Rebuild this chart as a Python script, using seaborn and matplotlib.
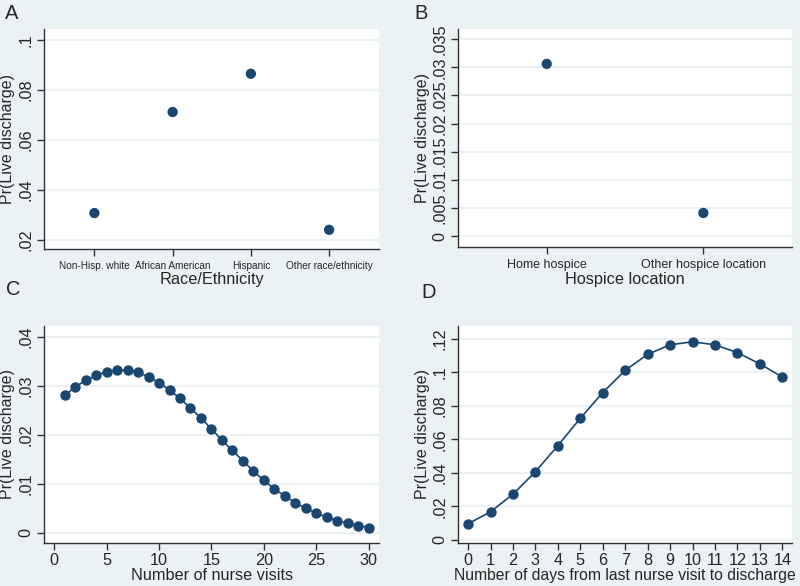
import matplotlib
matplotlib.use("Agg")
import matplotlib.pyplot as plt
from matplotlib.ticker import FuncFormatter
import seaborn as sns
import numpy as np
import pandas as pd

# panel A
race_labels = ["Non-Hisp. white", "African American", "Hispanic", "Other race/ethnicity"]
race_pr = [0.0308, 0.0712, 0.0865, 0.0241]

# panel B
loc_labels = ["Home hospice", "Other hospice location"]
loc_pr = [0.0306, 0.0041]

# panel C
visits = list(range(1, 31))
visits_pr = [0.0280, 0.0297, 0.0311, 0.0321, 0.0328, 0.0331, 0.0331, 0.0327, 0.0318, 0.0306,
             0.0291, 0.0274, 0.0254, 0.0234, 0.0212, 0.0189, 0.0168, 0.0147, 0.0126, 0.0107,
             0.0090, 0.0075, 0.0062, 0.0050, 0.0041, 0.0032, 0.0025, 0.0020, 0.0015, 0.0011]

# panel D
days = list(range(0, 15))
days_pr = [0.0095, 0.0167, 0.0272, 0.0406, 0.0562, 0.0725, 0.0879, 0.1011, 0.1107, 0.1164,
           0.1182, 0.1164, 0.1117, 0.1050, 0.0971]

bg = "#EAF2F3"
navy = "#1A476F"

sns.set_style("white")
plt.rcParams["font.family"] = ["Liberation Sans", "DejaVu Sans"]

def stata_fmt(v, pos):
    s = f"{round(v, 6):g}"
    if s.startswith("0."):
        s = s[1:]
    return s

def style_ax(ax, yticks, ylim, xlim):
    ax.set_facecolor("white")
    ax.set_ylim(*ylim)
    ax.set_xlim(*xlim)
    ax.set_yticks(yticks)
    ax.yaxis.set_major_formatter(FuncFormatter(stata_fmt))
    for t in ax.get_yticklabels():
        t.set_rotation(90)
        t.set_va("center")
    ax.tick_params(axis="y", labelsize=11.7, length=5, width=1, color="#333333",
                   direction="out", left=True, pad=3)
    ax.tick_params(axis="x", length=5, width=1, color="#333333", direction="out", bottom=True)
    ax.grid(axis="y", color=bg, linewidth=1.5)
    ax.grid(axis="x", visible=False)
    ax.set_axisbelow(True)
    for s in ["top", "right"]:
        ax.spines[s].set_visible(False)
    for s in ["left", "bottom"]:
        ax.spines[s].set_color("#333333")
        ax.spines[s].set_linewidth(1)
    ax.set_ylabel("Pr(Live discharge)", fontsize=11.5, labelpad=2)

fig = plt.figure(figsize=(8, 5.86), dpi=100, facecolor=bg)

axA = fig.add_axes([0.0554, 0.575, 0.4186, 0.3755])
axB = fig.add_axes([0.573, 0.579, 0.417, 0.3715])
axC = fig.add_axes([0.0554, 0.0729, 0.4186, 0.3713])
axD = fig.add_axes([0.573, 0.0729, 0.417, 0.3713])

dfA = pd.DataFrame({"race": race_labels, "pr": race_pr})
sns.scatterplot(data=dfA, x="race", y="pr", ax=axA, color=navy, s=55, edgecolor="none")
style_ax(axA, np.arange(0.02, 0.1001, 0.02), (0.0164, 0.1044), (-0.64, 3.64))
axA.set_xlabel("Race/Ethnicity", fontsize=11.7, labelpad=1)
axA.tick_params(axis="x", labelsize=7.2)

dfB = pd.DataFrame({"loc": loc_labels, "pr": loc_pr})
sns.scatterplot(data=dfB, x="loc", y="pr", ax=axB, color=navy, s=55, edgecolor="none")
style_ax(axB, np.arange(0, 0.03501, 0.005), (-0.0019, 0.0368), (-0.564, 1.566))
axB.set_xlabel("Hospice location", fontsize=11.7, labelpad=1)
axB.tick_params(axis="x", labelsize=9)

dfC = pd.DataFrame({"visits": visits, "pr": visits_pr})
sns.lineplot(data=dfC, x="visits", y="pr", ax=axC, color=navy, linewidth=1.2,
             marker="o", markersize=7.5, markeredgecolor="none")
style_ax(axC, np.arange(0, 0.0401, 0.01), (-0.0021, 0.0422), (-0.955, 31.02))
axC.set_xticks(range(0, 31, 5))
axC.set_xlabel("Number of nurse visits", fontsize=11.7, labelpad=0)
axC.tick_params(axis="x", labelsize=11.7, pad=2)

dfD = pd.DataFrame({"days": days, "pr": days_pr})
sns.lineplot(data=dfD, x="days", y="pr", ax=axD, color=navy, linewidth=1.2,
             marker="o", markersize=7.5, markeredgecolor="none")
style_ax(axD, np.arange(0, 0.1201, 0.02), (-0.0021, 0.1278), (-0.43, 14.43))
axD.set_xticks(days)
axD.set_xlabel("Number of days from last nurse visit to discharge", fontsize=11.3, labelpad=0)
axD.tick_params(axis="x", labelsize=11.7, pad=2)

for lbl, x, y in [("A", 0.006, 0.993), ("B", 0.518, 0.993), ("C", 0.007, 0.522), ("D", 0.527, 0.517)]:
    fig.text(x, y, lbl, fontsize=14.5, va="top", ha="left")

fig.savefig("out.png", dpi=100, facecolor=bg)
